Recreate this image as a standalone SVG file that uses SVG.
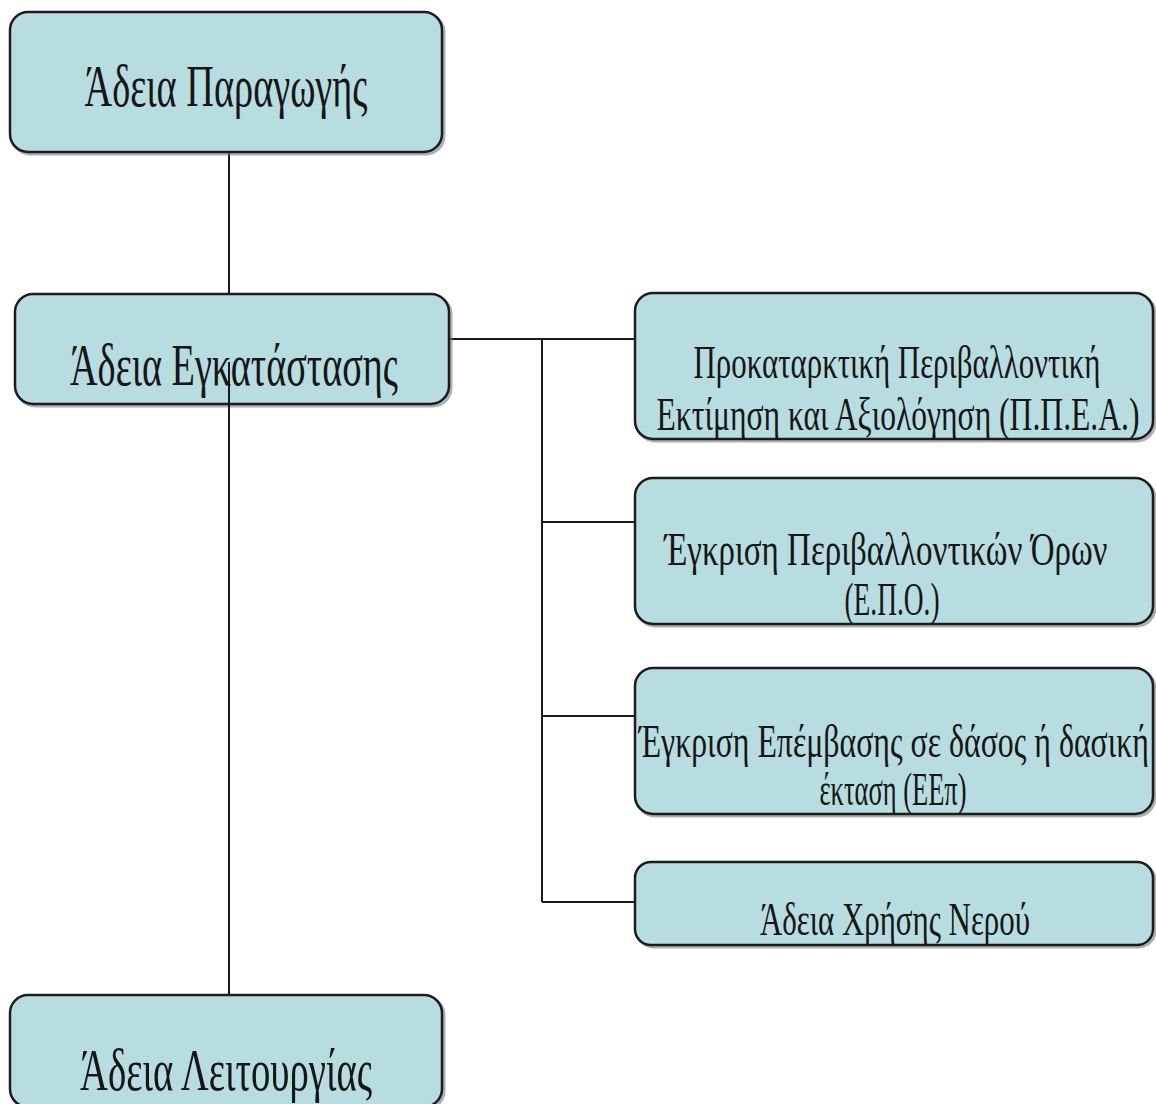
<svg xmlns="http://www.w3.org/2000/svg" width="1156" height="1104" viewBox="0 0 1156 1104">
  <style>
    .box { fill: #b8dde1; stroke: #1c1c1c; stroke-width: 2.5; }
    .shadow { fill: none; stroke: #7a7a7a; stroke-width: 3; opacity: 0.6; }
    .conn { stroke: #1a1a1a; stroke-width: 2; fill: none; }
    .big { font-family: "Liberation Serif", "DejaVu Serif", serif; font-size: 37.5px; fill: #161616; }
    .mid { font-family: "Liberation Serif", "DejaVu Serif", serif; font-size: 28.75px; fill: #161616; }
  </style>
  <rect width="1156" height="1104" fill="#ffffff"/>
  <g id="connectors">
    <line class="conn" x1="229" y1="152" x2="229" y2="294"/>
    <line class="conn" x1="449" y1="339" x2="635" y2="339" stroke-width="3"/>
    <line class="conn" x1="542" y1="339" x2="542" y2="902"/>
    <line class="conn" x1="542" y1="522" x2="635" y2="522" stroke-width="3"/>
    <line class="conn" x1="542" y1="716" x2="635" y2="716" stroke-width="2.5"/>
    <line class="conn" x1="542" y1="902" x2="635" y2="902" stroke-width="2.5"/>
  </g>
  <g id="node-paragogi">
    <rect class="shadow" x="12" y="14" width="432" height="140" rx="18"/>
    <rect class="box" x="10" y="12" width="432" height="140" rx="18"/>
    <text class="big" transform="translate(226,106) scale(1,1.6)" text-anchor="middle" textLength="283" lengthAdjust="spacingAndGlyphs">Άδεια Παραγωγής</text>
  </g>
  <g id="node-egkatastasi">
    <rect class="shadow" x="17" y="296" width="434" height="110" rx="18"/>
    <rect class="box" x="15" y="294" width="434" height="110" rx="18"/>
    <line class="conn" x1="229" y1="362" x2="229" y2="404"/>
    <text class="big" transform="translate(234,385) scale(1,1.6)" text-anchor="middle" font-size="35" textLength="328" lengthAdjust="spacingAndGlyphs">Άδεια Εγκατάστασης</text>
  </g>
  <line class="conn" x1="229" y1="404" x2="229" y2="996"/>
  <g id="node-ppea">
    <rect class="shadow" x="637" y="295" width="518" height="146" rx="18"/>
    <rect class="box" x="635" y="293" width="518" height="146" rx="18"/>
    <text class="mid" transform="translate(897,378) scale(1,1.6)" text-anchor="middle" textLength="407" lengthAdjust="spacingAndGlyphs">Προκαταρκτική Περιβαλλοντική</text>
    <text class="mid" transform="translate(898,430) scale(1,1.6)" text-anchor="middle" textLength="483" lengthAdjust="spacingAndGlyphs">Εκτίμηση και Αξιολόγηση (Π.Π.Ε.Α.)</text>
  </g>
  <g id="node-epo">
    <rect class="shadow" x="637" y="480" width="518" height="146" rx="18"/>
    <rect class="box" x="635" y="478" width="518" height="146" rx="18"/>
    <text class="mid" transform="translate(886,565) scale(1,1.6)" text-anchor="middle" textLength="443" lengthAdjust="spacingAndGlyphs">Έγκριση Περιβαλλοντικών Όρων</text>
    <text class="mid" transform="translate(892,615) scale(1,1.6)" text-anchor="middle" textLength="95" lengthAdjust="spacingAndGlyphs">(Ε.Π.Ο.)</text>
  </g>
  <g id="node-eep">
    <rect class="shadow" x="637" y="670" width="518" height="146" rx="18"/>
    <rect class="box" x="635" y="668" width="518" height="146" rx="18"/>
    <text class="mid" transform="translate(894,757) scale(1,1.6)" text-anchor="middle" textLength="510" lengthAdjust="spacingAndGlyphs">Έγκριση Επέμβασης σε δάσος ή δασική</text>
    <text class="mid" transform="translate(893,805) scale(1,1.6)" text-anchor="middle" textLength="147" lengthAdjust="spacingAndGlyphs">έκταση (ΕΕπ)</text>
  </g>
  <g id="node-nero">
    <rect class="shadow" x="637" y="864" width="518" height="83" rx="16"/>
    <rect class="box" x="635" y="862" width="518" height="83" rx="16"/>
    <text class="mid" transform="translate(895,935) scale(1,1.6)" text-anchor="middle" textLength="270" lengthAdjust="spacingAndGlyphs">Άδεια Χρήσης Νερού</text>
  </g>
  <g id="node-leitourgia">
    <rect class="shadow" x="12" y="997" width="432" height="112" rx="18"/>
    <rect class="box" x="10" y="995" width="432" height="112" rx="18"/>
    <text class="big" transform="translate(226,1090) scale(1,1.6)" text-anchor="middle" textLength="292" lengthAdjust="spacingAndGlyphs">Άδεια Λειτουργίας</text>
  </g>
</svg>
